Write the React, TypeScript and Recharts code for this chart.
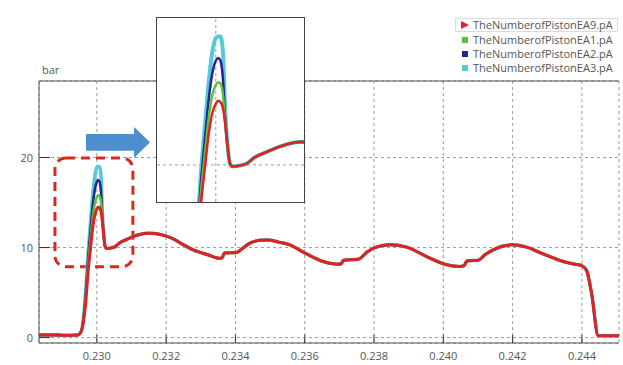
import { CartesianGrid, Line, LineChart, ReferenceArea, ReferenceLine, XAxis, YAxis } from 'recharts';

// time axis (s)
const time = [
  0.22833, 0.2287, 0.2291, 0.22945, 0.22955, 0.22962, 0.22968, 0.22975, 0.22982, 0.22988, 0.22994, 0.23,
  0.23004, 0.23008, 0.23012, 0.23016, 0.2302, 0.23024, 0.23028, 0.23032, 0.2304, 0.23053, 0.23065, 0.23086,
  0.2311, 0.23143, 0.2316, 0.23198, 0.23219, 0.2325, 0.23278, 0.2332, 0.23355, 0.23362, 0.23368, 0.23403,
  0.2342, 0.23442, 0.2347, 0.23494, 0.23525, 0.23557, 0.236, 0.23653, 0.23696, 0.23705, 0.23712, 0.23754,
  0.2378, 0.23802, 0.23846, 0.23894, 0.23952, 0.24004, 0.24048, 0.2406, 0.24068, 0.24101, 0.2412, 0.24144,
  0.2417, 0.24197, 0.2424, 0.24288, 0.24346, 0.2438, 0.24399, 0.24413, 0.24428, 0.24447, 0.24466, 0.24507,
];

// shared tail after the first pressure peak
const tail = [
  9.9, 9.95, 10.1, 10.5, 10.9, 11.3, 11.6, 11.6, 11.3, 11.0, 10.3, 9.75, 9.2, 8.8, 8.9, 9.4, 9.45, 9.9, 10.5,
  10.8, 10.85, 10.6, 10.3, 9.4, 8.45, 8.15, 8.2, 8.6, 8.7, 9.5, 10.0, 10.3, 10.05, 9.0, 8.15, 7.9, 8.0, 8.5,
  8.6, 9.2, 9.75, 10.15, 10.3, 10.05, 9.3, 8.45, 8.15, 8.0, 7.5, 4.9, 0.2, 0.2, 0.2,
];
const start = [0.3, 0.3, 0.25, 0.3];

const ea9 = [...start, 0.7, 2.0, 4.0, 7.4, 10.0, 12.2, 13.6, 14.3, 14.5, 14.4, 14.0, 12.9, 11.3, 10.1, 9.9, ...tail];
const ea1 = [...start, 0.7, 2.2, 4.5, 8.2, 11.0, 13.3, 14.9, 15.6, 15.8, 15.7, 15.0, 13.0, 11.3, 10.1, 9.9, ...tail];
const ea2 = [...start, 0.7, 2.3, 4.9, 8.9, 12.0, 14.6, 16.4, 17.3, 17.5, 17.3, 16.1, 13.2, 11.3, 10.1, 9.9, ...tail];
const ea3 = [...start, 0.7, 2.5, 5.3, 9.6, 13.0, 15.8, 17.9, 18.9, 19.0, 19.0, 18.0, 13.8, 11.4, 10.1, 9.9, ...tail];

const xTicks = [0.23, 0.232, 0.234, 0.236, 0.238, 0.24, 0.242, 0.244];
const yTicks = [0, 10, 20];

const series = [
  { key: 'ea3', name: 'TheNumberofPistonEA3.pA', color: '#55c8da', width: 3.5, values: ea3 },
  { key: 'ea2', name: 'TheNumberofPistonEA2.pA', color: '#26248f', width: 2.5, values: ea2 },
  { key: 'ea1', name: 'TheNumberofPistonEA1.pA', color: '#5fc136', width: 2.5, values: ea1 },
  { key: 'ea9', name: 'TheNumberofPistonEA9.pA', color: '#e22222', width: 3, values: ea9 },
];
const legendOrder = ['ea9', 'ea1', 'ea2', 'ea3'];

const rows = time.map((t, i) => {
  const row: Record<string, number> = { t };
  series.forEach((s) => (row[s.key] = s.values[i]));
  return row;
});

const font = '"Open Sans", "Noto Sans", sans-serif';

function XTick({ x, y, payload }: any) {
  return (
    <g>
      <line x1={x} x2={x} y1={y - 8} y2={y} stroke="#333" />
      <text x={x} y={y + 17} textAnchor="middle" fill="#555" fontSize={11} fontFamily={font}>
        {payload.value.toFixed(3)}
      </text>
    </g>
  );
}

function YTick({ x, y, payload }: any) {
  return (
    <g>
      <line x1={x} x2={x + 11} y1={y} y2={y} stroke="#333" />
      <text x={x - 6} y={y + 4} textAnchor="end" fill="#555" fontSize={11} fontFamily={font}>
        {payload.value}
      </text>
    </g>
  );
}

function DashedBox(props: any) {
  const { x, y, width, height } = props;
  return (
    <rect x={x} y={y} width={width} height={height} rx={11} fill="none" stroke="#d52b1e" strokeWidth={3} strokeDasharray="9 6" />
  );
}

function LegendBox() {
  return (
    <div style={{ fontFamily: font, fontSize: 11, color: '#555', lineHeight: '14px' }}>
      {legendOrder.map((k, i) => {
        const s = series.find((d) => d.key === k)!;
        return (
          <div
            key={k}
            style={{
              display: 'flex',
              alignItems: 'center',
              paddingLeft: 5,
              width: 163,
              height: 14.4,
              border: i === 0 ? '1px solid #d6dce6' : '1px solid transparent',
              boxSizing: 'border-box',
            }}
          >
            {i === 0 ? (
              <svg width={8} height={8} style={{ marginRight: 4 }}>
                <polygon points="0,0 8,4 0,8" fill={s.color} />
              </svg>
            ) : (
              <span style={{ display: 'inline-block', width: 6, height: 6, background: s.color, marginRight: 5, marginLeft: 1 }} />
            )}
            {s.name}
          </div>
        );
      })}
    </div>
  );
}

export default function App() {
  return (
    <div style={{ position: 'absolute', left: 0, top: 0, width: 623, height: 365, background: '#fff', overflow: 'hidden' }}>
      <LineChart width={623} height={365} data={rows} margin={{ top: 81, right: 4, bottom: 0, left: 0 }}>
        <CartesianGrid stroke="#9a9a9a" strokeDasharray="3 3" />
        <XAxis
          dataKey="t"
          type="number"
          domain={[0.22833, 0.24507]}
          ticks={xTicks}
          allowDataOverflow
          height={22}
          tick={<XTick />}
          tickLine={false}
          tickSize={0}
          tickMargin={0}
          axisLine={{ stroke: '#555' }}
        />
        <YAxis
          type="number"
          domain={[-0.6, 28.5]}
          ticks={yTicks}
          allowDataOverflow
          width={39}
          tick={<YTick />}
          tickLine={false}
          tickSize={0}
          tickMargin={0}
          axisLine={{ stroke: '#555' }}
        />
        <ReferenceLine y={28.5} stroke="#555" strokeWidth={1} />
        {series.map((s) => (
          <Line
            key={s.key}
            dataKey={s.key}
            name={s.name}
            type="monotone"
            stroke={s.color}
            strokeWidth={s.width}
            dot={false}
            isAnimationActive={false}
          />
        ))}
        <ReferenceArea x1={0.22879} x2={0.23104} y1={7.87} y2={19.95} shape={<DashedBox />} ifOverflow="visible" />
      </LineChart>

      <div style={{ position: 'absolute', left: 455, top: 18 }}>
        <LegendBox />
      </div>

      <div style={{ position: 'absolute', left: 42, top: 62, fontFamily: font, fontSize: 11, color: '#555' }}>bar</div>

      <svg style={{ position: 'absolute', left: 0, top: 0 }} width={623} height={365} pointerEvents="none">
        <polygon points="86,134 134,134 134,127 150,142.3 134,158 134,150.7 86,150.7" fill="#4d8fd0" />
      </svg>

      <div
        style={{
          position: 'absolute',
          left: 156,
          top: 17,
          width: 147,
          height: 184,
          border: '1px solid #444',
          background: '#fff',
        }}
      >
        <LineChart width={147} height={184} data={rows} margin={{ top: 0, right: 0, bottom: 0, left: 0 }}>
          <XAxis dataKey="t" type="number" domain={[0.229, 0.2315]} allowDataOverflow hide />
          <YAxis type="number" domain={[7.4, 20.3]} allowDataOverflow hide />
          <ReferenceLine x={0.23} stroke="#9a9a9a" strokeDasharray="3 3" />
          <ReferenceLine y={10} stroke="#9a9a9a" strokeDasharray="3 3" />
          {series.map((s) => (
            <Line
              key={s.key}
              dataKey={s.key}
              type="monotone"
              stroke={s.color}
              strokeWidth={s.key === 'ea3' ? 4 : 2.5}
              dot={false}
              isAnimationActive={false}
            />
          ))}
        </LineChart>
      </div>
    </div>
  );
}
